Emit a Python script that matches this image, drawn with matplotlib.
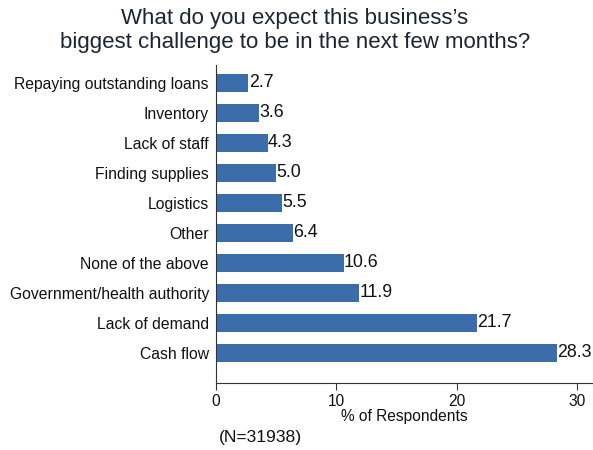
import matplotlib
matplotlib.use("Agg")
import matplotlib.pyplot as plt

categories = ["Repaying outstanding loans", "Inventory", "Lack of staff",
              "Finding supplies", "Logistics", "Other", "None of the above",
              "Government/health authority", "Lack of demand", "Cash flow"]
values = [2.7, 3.6, 4.3, 5.0, 5.5, 6.4, 10.6, 11.9, 21.7, 28.3]
xticks = [0, 10, 20, 30]

plt.rcParams['font.family'] = ['Liberation Sans', 'DejaVu Sans']
fig = plt.figure(figsize=(5.93, 4.5), dpi=100)
ax = fig.add_axes([0.364, 0.149, 0.636, 0.707])

color = "#3b6daa"
txt = "#111111"
ypos = list(range(len(categories)))
ax.barh(ypos, values, height=0.6, color=color)
for y, v in zip(ypos, values):
    ax.text(v + 0.02, y, f"{v:.1f}", va="center", ha="left", fontsize=12.8, color=txt)

ax.set_yticks(ypos)
ax.set_yticklabels(categories, fontsize=11.3, color=txt)
ax.tick_params(axis="y", length=0, pad=5)
ax.set_ylim(len(categories) - 1 + 1.0, -0.6)
ax.set_xlim(0, 31.3)
ax.set_xticks(xticks)
ax.set_xticklabels([str(t) for t in xticks], fontsize=11.2, color=txt)
ax.tick_params(axis="x", length=5, width=0.8, color="#333333", pad=3)
ax.set_xlabel("% of Respondents", fontsize=11.2, color=txt, labelpad=0)
for s in ["top", "right"]:
    ax.spines[s].set_visible(False)
for s in ["left", "bottom"]:
    ax.spines[s].set_color("#333333")
    ax.spines[s].set_linewidth(0.8)

fig.text(0.497, 0.958, "What do you expect this business\u2019s",
         ha="center", va="center", fontsize=16, color="#1a2533")
fig.text(0.497, 0.906, "biggest challenge to be in the next few months?",
         ha="center", va="center", fontsize=16, color="#1a2533")
fig.text(0.369, 0.027, "(N=31938)", ha="left", va="center", fontsize=12.6, color=txt)

fig.savefig("out.png", dpi=100)
